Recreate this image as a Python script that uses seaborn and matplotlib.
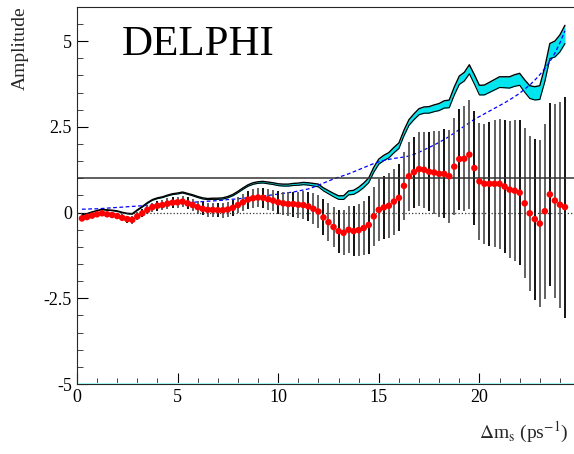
import numpy as np
import pandas as pd
import matplotlib
matplotlib.use("Agg")
import matplotlib.pyplot as plt
import seaborn as sns

# measured amplitude, one point every 0.25 ps^-1
amp = [-0.17, -0.13, -0.09, -0.05, -0.02, -0.05, -0.07, -0.10, -0.15, -0.19,
       -0.21, -0.11, -0.02, 0.08, 0.16, 0.20, 0.22, 0.26, 0.29, 0.30,
       0.32, 0.27, 0.22, 0.16, 0.11, 0.08, 0.08, 0.07, 0.07, 0.09,
       0.14, 0.22, 0.30, 0.38, 0.42, 0.44, 0.43, 0.39, 0.35, 0.30,
       0.27, 0.25, 0.25, 0.23, 0.22, 0.18, 0.11,
       0.03, -0.14, -0.28, -0.42, -0.54, -0.59, -0.50, -0.54, -0.51, -0.45,
       -0.36, -0.11, 0.08, 0.15, 0.20, 0.32, 0.43, 0.78, 1.06, 1.18,
       1.27, 1.25, 1.19, 1.17, 1.13, 1.13, 1.06, 1.34, 1.56, 1.57,
       1.69, 1.30, 0.91, 0.84, 0.84, 0.84, 0.84, 0.76, 0.67, 0.64,
       0.58, 0.27, -0.02, -0.19, -0.32, 0.04, 0.53, 0.35, 0.23, 0.16]

# 1.645 sigma sensitivity
sens = [0.10, 0.10, 0.11, 0.11, 0.12, 0.13, 0.14, 0.15, 0.16, 0.17,
        0.18, 0.19, 0.20, 0.21, 0.22, 0.23, 0.24, 0.25, 0.26, 0.27,
        0.28, 0.29, 0.30, 0.31, 0.32, 0.33, 0.34, 0.35, 0.36, 0.38,
        0.39, 0.40, 0.42, 0.43, 0.45, 0.46, 0.48, 0.50, 0.52, 0.54,
        0.56, 0.58, 0.60, 0.63, 0.66, 0.69, 0.74,
        0.80, 0.86, 0.92, 0.98, 1.03, 1.08, 1.13, 1.19, 1.25, 1.31,
        1.37, 1.43, 1.48, 1.52, 1.55, 1.58, 1.60, 1.62, 1.65, 1.70,
        1.76, 1.83, 1.90, 1.97, 2.05, 2.13, 2.22, 2.32, 2.42, 2.52,
        2.62, 2.72, 2.80, 2.88, 2.96, 3.04, 3.12, 3.20, 3.29, 3.38,
        3.48, 3.60, 3.72, 3.86, 4.02, 4.20, 4.40, 4.65, 4.95, 5.30]

dms = [0.25 * (i + 1) for i in range(len(amp))]

df = pd.DataFrame({"dms": dms, "amp": amp, "sens": sens})
df["sigma"] = df["sens"] / 1.645
df["hi"] = df["amp"] + df["sens"]
df["lo"] = df["amp"] + 0.9 * df["sens"]

sns.set_style("ticks")
plt.rcParams["font.family"] = ["Liberation Serif", "DejaVu Serif"]
plt.rcParams["mathtext.fontset"] = "stix"

fig = plt.figure(figsize=(5.74, 4.54), dpi=100)
ax = fig.add_axes([0.134, 0.154, 0.866, 0.831])

ax.fill_between(df["dms"], df["lo"], df["hi"], color="#00e5ee", lw=0)
sns.lineplot(data=df, x="dms", y="hi", color="black", lw=1.0, ax=ax)
sns.lineplot(data=df, x="dms", y="lo", color="black", lw=0.8, ax=ax)
sns.lineplot(data=df, x="dms", y="sens", color="blue", lw=0.9, ls=(0, (3, 2)), ax=ax)

for i, r in df.iterrows():
    c = "black" if i % 3 == 0 else "#555555"
    ax.vlines(r["dms"], r["amp"] - r["sigma"], r["amp"] + r["sigma"], color=c, lw=1.3)

sns.scatterplot(data=df, x="dms", y="amp", color="red", s=22, edgecolor="none", ax=ax, zorder=5)

ax.axhline(1, color="#333333", lw=1.1)
ax.axhline(0, color="#333333", lw=0.9, ls=":")
ax.axhline(-4.97, color="#aaffff", lw=0.8)

ax.set_xlim(0, 24.7)
ax.set_ylim(-5, 6.0)
ax.set_xticks([0, 5, 10, 15, 20])
ax.set_yticks([-5, -2.5, 0, 2.5, 5])
ax.set_yticklabels(["-5", "-2.5", "0", "2.5", "5"])
ax.set_xticks(np.arange(0, 25, 1), minor=True)
ax.set_yticks(np.arange(-5, 6.01, 0.5), minor=True)
ax.tick_params(direction="in", labelsize=13, length=8, top=False, right=False, colors="black")
ax.tick_params(which="minor", direction="in", length=4)
ax.spines["right"].set_visible(False)
ax.set_xlabel("")
ax.set_ylabel("")

fig.text(0.035, 0.985, "Amplitude", rotation=90, ha="center", va="top", fontsize=14)
fig.text(0.99, 0.02, r"$\Delta$m$_\mathrm{s}$ (ps$^{-1}$)", ha="right", va="bottom", fontsize=14)
ax.text(0.09, 0.90, "DELPHI", transform=ax.transAxes, fontsize=31, va="center", color="black")

fig.savefig("out.png", dpi=100)
